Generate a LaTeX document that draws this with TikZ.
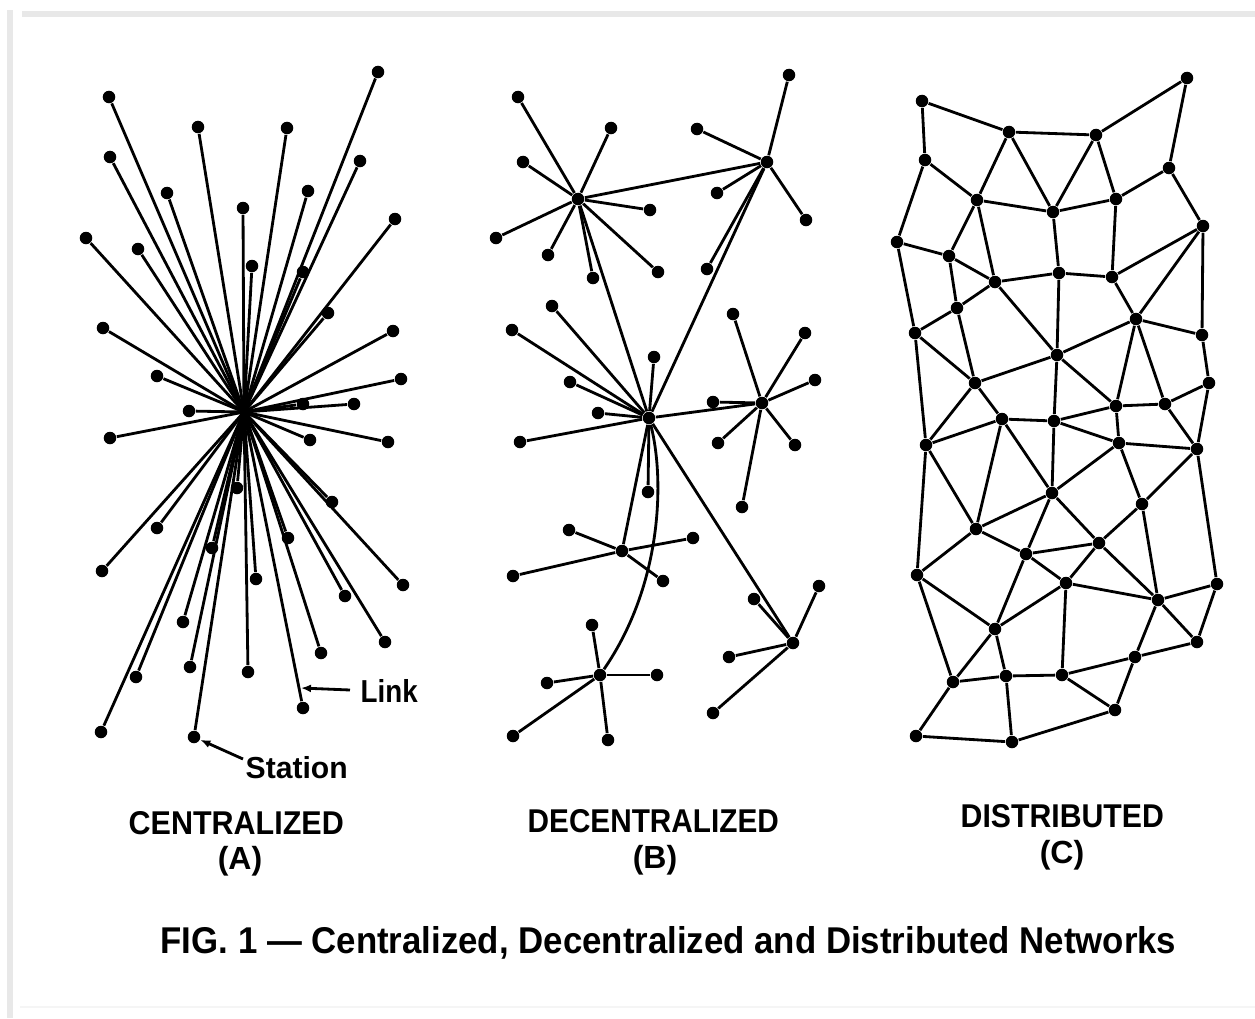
\documentclass[tikz,border=0pt]{standalone}
\usepackage{fontspec}
\usepackage{graphicx}
\setmainfont{Liberation Sans}
\usetikzlibrary{arrows.meta}
\tikzset{
  st/.style={circle,fill=black,draw=none,inner sep=0pt,minimum size=0.125cm},
  lk/.style={line width=0.8pt,black},
  lbl/.style={inner sep=0pt,anchor=base west,font=\bfseries},
  arr/.style={line width=0.8pt,-{Latex[length=0.1cm,width=0.08cm]}},
  frame/.style={line width=0.05cm,black!9}
}
\begin{document}
\begin{tikzpicture}[x=0.01cm,y=-0.01cm]
\useasboundingbox (0,0) rectangle (1255,1018);
\fill[white] (0,0) rectangle (1255,1018);
% faint frame of the scan
\coordinate (f1) at (22,14);
\coordinate (f2) at (1255,14);
\coordinate (f3) at (10,10);
\coordinate (f4) at (10,1018);
\coordinate (f5) at (20,1007);
\coordinate (f6) at (1255,1007);
\draw[frame] (f1) -- (f2);
\draw[frame] (f3) -- (f4);
\draw[line width=0.02cm,black!4] (f5) -- (f6);

% ---------------- (A) centralized ----------------
\coordinate (ac) at (244,412);
\foreach \n/\x/\y in {1/109/97,2/198/127,3/287/128,4/378/72,5/110/157,6/360/161,
  7/167/193,8/308/191,9/243/208,10/395/219,11/86/238,12/138/249,13/252/266,
  14/303/272,15/328/313,16/103/328,17/393/331,18/157/376,19/401/379,20/303/404,
  21/354/404,22/189/411,23/110/438,24/310/440,25/388/442,26/237/488,27/332/502,
  28/157/528,29/212/548,30/288/538,31/102/571,32/256/579,33/403/585,34/345/596,
  35/183/622,36/385/642,37/321/653,38/190/667,39/136/677,40/248/672,41/303/708,
  42/101/732,43/194/737}{
  \node[st] (a\n) at (\x,\y) {};
  \draw[lk] (ac) -- (a\n);
}
\node[lbl] (linkt) at (360,702) {\resizebox{0.57cm}{0.23cm}{Link}};
\coordinate (linkpt) at (301,688);
\draw[arr] ([xshift=-0.1cm,yshift=0.12cm]linkt.base west) -- (linkpt);
\node[lbl] (stat) at (245,778) {\resizebox{1.02cm}{0.22cm}{Station}};
\coordinate (statfrom) at (243,759);
\draw[arr] (statfrom) -- (a43);

% ---------------- (B) decentralized ----------------
\foreach \h/\x/\y in {1/578/199,2/767/162,3/649/418,4/762/403,5/622/551,6/600/675,7/793/643}{
  \node[st] (hb\h) at (\x,\y) {};
}
\foreach \h/\n/\x/\y in {
  1/1/518/97,1/2/611/128,1/3/523/162,1/4/650/210,1/5/496/238,1/6/548/255,1/7/593/278,1/8/658/272,
  2/1/789/75,2/2/697/129,2/3/717/193,2/4/806/220,2/5/707/269,
  3/1/552/306,3/2/512/330,3/3/654/357,3/4/570/382,3/5/598/413,3/6/520/442,3/7/648/492,
  4/1/733/314,4/2/805/333,4/3/815/380,4/4/713/402,4/5/718/443,4/6/795/445,4/7/742/507,
  5/1/569/530,5/2/693/538,5/3/513/576,5/4/663/581,
  6/1/592/625,6/2/657/675,6/3/547/683,6/4/513/736,6/5/608/740,
  7/1/819/586,7/2/754/599,7/3/729/657,7/4/713/713}{
  \node[st] (b\h-\n) at (\x,\y) {};
  \draw[lk] (hb\h) -- (b\h-\n);
}
\draw[lk] (hb1) -- (hb2);
\draw[lk] (hb1) -- (hb3);
\draw[lk] (hb2) -- (hb3);
\draw[lk] (hb3) -- (hb4);
\draw[lk] (hb3) -- (hb5);
\draw[lk] (hb3) -- (hb7);
\draw[lk] (hb3) .. controls (665,480) and (662,585) .. (hb6);

% ---------------- (C) distributed ----------------
\foreach \n/\x/\y in {1/922/101,2/1009/132,3/1096/135,4/1187/78,5/925/160,6/1169/168,
  7/977/200,8/1053/212,9/1116/199,10/1203/226,11/897/242,12/949/256,13/995/282,
  14/1059/273,15/1112/277,16/957/308,17/1136/319,18/915/333,19/1202/335,20/1057/355,
  21/975/383,22/1209/383,23/1116/406,24/1165/404,25/1002/419,26/1054/421,27/926/445,
  28/1119/443,29/1197/449,30/1052/493,31/1142/504,32/976/529,33/1099/543,34/1026/554,
  35/917/575,36/1066/583,37/1217/584,38/1158/600,39/995/629,40/1197/642,41/1135/657,
  42/953/682,43/1006/676,44/1062/675,45/1115/710,46/916/736,47/1012/742}{
  \node[st] (c\n) at (\x,\y) {};
}
\foreach \p/\q in {1/5,1/2,2/3,3/4,4/6,2/7,2/8,3/8,3/9,5/11,5/7,6/9,6/10,7/8,8/9,
  7/12,7/13,8/14,9/15,11/12,11/18,12/13,12/16,13/14,14/15,15/10,10/17,10/19,15/17,
  13/20,14/20,16/13,16/18,16/21,18/21,18/27,17/19,17/20,17/23,17/24,19/22,20/21,
  20/26,20/23,22/24,22/29,23/24,21/27,21/25,25/26,25/27,25/32,25/30,26/30,26/28,
  26/23,23/28,24/29,28/29,28/30,28/31,29/31,29/37,27/35,27/32,30/32,30/34,30/33,
  31/33,31/38,32/35,32/34,33/34,33/36,33/38,34/36,34/39,35/39,35/42,36/39,36/38,
  36/44,37/38,37/40,38/40,38/41,40/41,39/42,39/43,41/44,41/45,42/43,42/46,43/44,
  43/47,44/45,46/47,47/45}{
  \draw[lk] (c\p) -- (c\q);
}

% ---------------- labels ----------------
\node[lbl] (la) at (128,834) {\resizebox{2.15cm}{0.23cm}{CENTRALIZED}};
\node[lbl] (lb) at (527,832) {\resizebox{2.51cm}{0.23cm}{DECENTRALIZED}};
\node[lbl] (lc) at (960,827) {\resizebox{2.03cm}{0.23cm}{DISTRIBUTED}};
\node[inner sep=0pt,anchor=base,font=\bfseries] (pa) at (240,869) {\fontsize{9.1pt}{10pt}\selectfont (A)};
\node[inner sep=0pt,anchor=base,font=\bfseries] (pb) at (655,868) {\fontsize{9.1pt}{10pt}\selectfont (B)};
\node[inner sep=0pt,anchor=base,font=\bfseries] (pc) at (1062,863) {\fontsize{9.1pt}{10pt}\selectfont (C)};
\node[lbl] (cap) at (160,953) {\resizebox{10.15cm}{0.27cm}{FIG. 1 — Centralized, Decentralized and Distributed Networks}};
\end{tikzpicture}
\end{document}
